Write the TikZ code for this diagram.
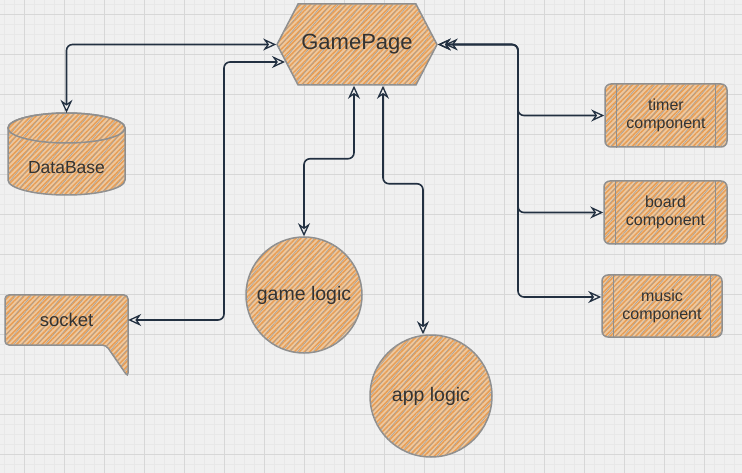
\documentclass[tikz,border=0pt]{standalone}
\usepackage{fontspec}
\setmainfont{Liberation Sans}
\usetikzlibrary{arrows.meta,shapes.symbols,patterns.meta}
\definecolor{bgc}{HTML}{F0F0F0}
\definecolor{gridmin}{HTML}{E8E8E8}
\definecolor{gridmaj}{HTML}{D7D7D7}
\definecolor{fillc}{HTML}{EDC8A0}
\definecolor{hatch}{HTML}{E89E55}
\definecolor{edge}{HTML}{8F8F8F}
\definecolor{wire}{HTML}{223041}
\definecolor{txt}{HTML}{333333}
\tikzset{
	part/.style={draw=edge,line width=1.5pt,preaction={fill=fillc},pattern={Lines[angle=45,distance=3.6pt,line width=1.5pt]},pattern color=hatch,
		postaction={pattern={Lines[angle=50,distance=6pt,line width=0.5pt]},pattern color=gray!75}},
	link/.style={draw=wire,line width=1.6pt,rounded corners=6pt,{Stealth[open,length=13pt,width=12pt,line width=1.3pt]}-{Stealth[open,length=13pt,width=12pt,line width=1.3pt]}},
	lbl/.style={text=txt,inner sep=0pt,align=center},
}
\begin{document}
\begin{tikzpicture}[x=1pt,y=-1pt]
	\useasboundingbox (0,0) rectangle (742,473);
	\fill[bgc] (0,0) rectangle (742,473);
	% grid
	\foreach \x in {4,14,...,744} \draw[gridmin,line width=0.5pt] (\x,0) -- (\x,473);
	\foreach \y in {4,14,...,474} \draw[gridmin,line width=0.5pt] (0,\y) -- (742,\y);
	\foreach \x in {24,64,...,744} \draw[gridmaj,line width=0.8pt] (\x,0) -- (\x,473);
	\foreach \y in {14,54,...,474} \draw[gridmaj,line width=0.8pt] (0,\y) -- (742,\y);
	% shapes drawn by hand
	\path[part] (8,128) -- (8,180) arc[start angle=180,end angle=0,x radius=58.5,y radius=15] -- (125,128) arc[start angle=0,end angle=-180,x radius=58.5,y radius=15] -- cycle;
	\draw[edge,line width=1.5pt] (66.5,128) ellipse [x radius=58.5,y radius=15];
	\draw[part,rounded corners=4pt] (5,295) -- (128,295) -- (128,377) -- (106,345) -- (5,345) -- cycle;
	% nodes
	\node[signal,signal to=west and east,signal pointer angle=125,part,minimum width=160,minimum height=81,lbl,font=\fontsize{22}{26}\selectfont] (gp) at (357,44.5) {GamePage};
	\node[lbl,minimum width=117,minimum height=82,font=\fontsize{17.5}{21}\selectfont,text depth=0pt] (db) at (66.5,154) {\raisebox{-20pt}{DataBase}};
	\node[lbl,minimum width=123,minimum height=50,font=\fontsize{18.5}{22}\selectfont] (sock) at (66.5,320) {socket};
	\node[circle,part,lbl,minimum size=116,font=\fontsize{19.5}{23}\selectfont] (gl) at (304,295) {game logic};
	\node[circle,part,lbl,minimum size=122,font=\fontsize{19.5}{23}\selectfont] (al) at (431,396) {app logic};
	\node[part,lbl,rounded corners=6pt,minimum width=122,minimum height=63,font=\fontsize{16}{18}\selectfont] (tc) at (666,115.5) {timer\\component};
	\node[part,lbl,rounded corners=6pt,minimum width=123,minimum height=63,font=\fontsize{16}{18}\selectfont] (bc) at (665.5,212.5) {board\\component};
	\node[part,lbl,rounded corners=6pt,minimum width=120,minimum height=62,font=\fontsize{16}{18}\selectfont] (mc) at (662,306) {music\\component};
	\foreach \n in {tc,bc,mc}
		\draw[edge,line width=1.3pt] ([xshift=12]\n.north west) -- ([xshift=12]\n.south west) ([xshift=-12]\n.north east) -- ([xshift=-12]\n.south east);
	% connectors
	\coordinate (gpsw) at (285,62);
	\coordinate (hub) at (518,44.5);
	\draw[link] (db.north) |- (gp.west);
	\draw[link] (sock.east) -| (224,62) -- (gpsw);
	\draw[link] ([xshift=-3]gp.south) -- ++(0,73) -| (gl.north);
	\draw[link] ([xshift=26]gp.south) -- ++(0,98) -| ([xshift=-8]al.north);
	\draw[link] (gp.east) -- (hub) |- (tc.west);
	\draw[link] ([xshift=7]gp.east) -- (hub) |- (bc.west);
	\draw[link] (gp.east) -- (hub) |- ([yshift=9]mc.west);
\end{tikzpicture}
\end{document}
